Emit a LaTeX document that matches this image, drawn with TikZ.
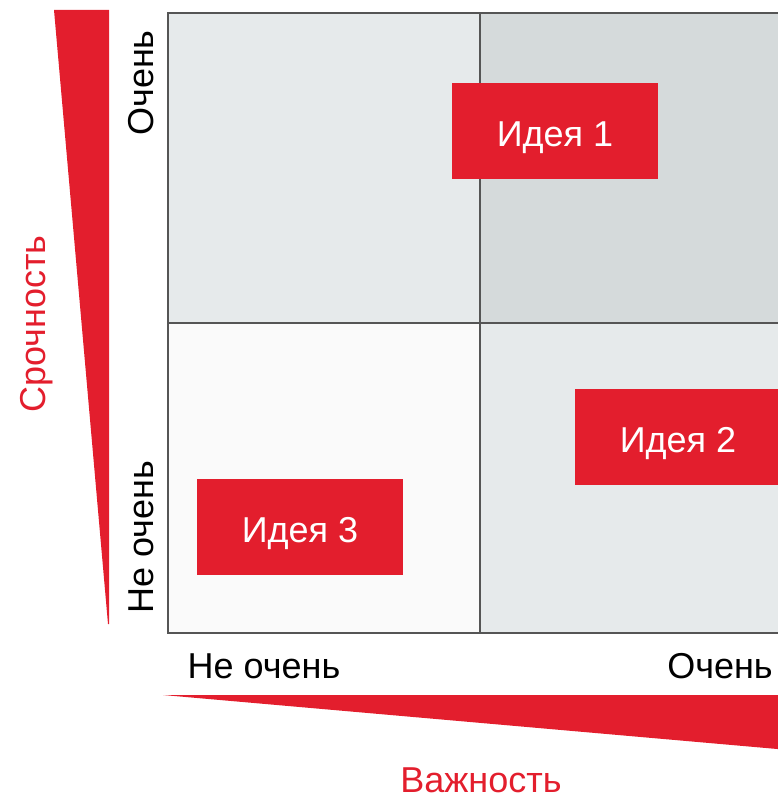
\documentclass[tikz,border=0pt]{standalone}
\usepackage{fontspec}
\setmainfont{Liberation Sans}
\definecolor{myred}{RGB}{227,30,45}
\definecolor{quadlight}{RGB}{230,234,235}
\definecolor{quaddark}{RGB}{213,218,219}
\definecolor{quadwhite}{RGB}{250,250,250}
\definecolor{gridgray}{RGB}{85,85,85}

\begin{document}
\begin{tikzpicture}[x=1pt,y=-1pt,
        idea/.style={fill=myred, text=white, minimum width=206pt, minimum height=96pt, inner sep=0pt, text height=30pt, text depth=0pt, font=\fontsize{36}{40}\selectfont},
        axislabel/.style={font=\fontsize{36}{40}\selectfont, inner sep=0pt, anchor=base},
        axisname/.style={axislabel, text=myred}]
        \useasboundingbox (0,0) rectangle (778,800);
        \clip (0,0) rectangle (778,800);

            % quadrants
            \fill[quadlight] (168,13) rectangle (480,323);
            \fill[quaddark] (480,13) rectangle (800,323);
            \fill[quadwhite] (168,323) rectangle (480,633);
            \fill[quadlight] (480,323) rectangle (800,633);
            \draw[gridgray, line width=1.5pt] (800,13) -- (168,13) -- (168,633) -- (800,633);
            \draw[gridgray, line width=1.5pt] (480,13) -- (480,633);
            \draw[gridgray, line width=1.5pt] (168,323) -- (800,323);

            % wedges
            \fill[myred] (54,10) -- (109,10) -- (109,624) -- (108,624) -- cycle;
            \fill[myred] (163,695) -- (800,695) -- (800,751) -- cycle;

            \node[idea] (I1) at (555,131) {Идея 1};
            \node[idea] (I2) at (678,437) {Идея 2};
            \node[idea] (I3) at (300,527) {Идея 3};

            \node[axislabel, rotate=90] (UH) at (153,83) {Очень};
            \node[axislabel, rotate=90] (UL) at (153,537) {Не очень};
            \node[axisname, rotate=90] (U) at (45,324) {Срочность};
            \node[axislabel] (IL) at (264,678) {Не очень};
            \node[axislabel] (IH) at (720,678) {Очень};
            \node[axisname] (I) at (481,792) {Важность};
        \end{tikzpicture}
\end{document}
